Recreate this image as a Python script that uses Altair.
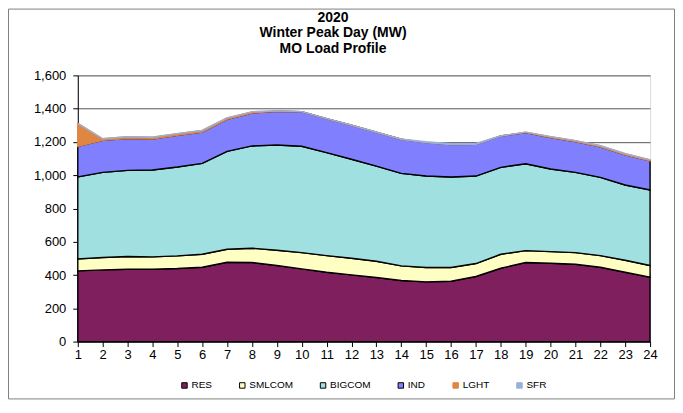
import altair as alt
import pandas as pd

hours = list(range(1, 25))
series = ["RES", "SMLCOM", "BIGCOM", "IND", "LGHT", "SFR"]

res = [425, 431, 435, 435, 439, 447, 477, 475, 457, 437, 417, 401,
       385, 367, 359, 363, 391, 441, 475, 471, 465, 447, 417, 387]
smlcom = [72, 74, 76, 74, 76, 78, 78, 86, 92, 98, 100, 100,
          98, 88, 86, 82, 78, 84, 72, 70, 70, 70, 72, 70]
bigcom = [493, 512, 518, 522, 534, 546, 588, 615, 633, 639, 619, 595,
          572, 556, 550, 544, 526, 522, 522, 496, 482, 470, 452, 454]
ind = [184, 193, 191, 187, 191, 189, 193, 198, 202, 208, 204, 204,
       203, 205, 201, 195, 191, 189, 187, 189, 185, 183, 181, 175]
lght = [138, 9, 11, 10, 10, 9, 9, 7, 3, 0, 0, 0,
        0, 0, 0, 0, 0, 0, 3, 6, 6, 7, 7, 6]
sfr = [0, 0, 0, 0, 0, 0, 0, 0, 0, 0, 0, 0,
       0, 0, 5, 6, 5, 0, 0, 0, 0, 0, 0, 0]

title_lines = ["2020", "Winter Peak Day (MW)", "MO Load Profile"]

colors = ["#7F1F5E", "#FFFFC4", "#A0E0E0", "#8080FF", "#DE8642", "#9BB0D8"]
strokes = ["#000000", "#000000", "#000000", "#000000", "#DE8642", "#9BB0D8"]

values = [res, smlcom, bigcom, ind, lght, sfr]
rows = []
for i, (s, vals) in enumerate(zip(series, values)):
    for h, v in zip(hours, vals):
        rows.append({"hour": h, "series": s, "mw": v, "ord": i})
df = pd.DataFrame(rows)

FONT = "Liberation Sans"

legend_params = dict(
    orient="none", legendX=102, legendY=306, direction="horizontal",
    title=None, symbolType="square", symbolSize=30, symbolStrokeWidth=1,
    labelFontSize=10, labelFont=FONT, columnPadding=25, labelOffset=2,
    symbolOpacity=1,
)

area = alt.Chart(df).mark_area(strokeWidth=1.4, opacity=1).encode(
    x=alt.X("hour:Q",
            scale=alt.Scale(domain=[1, 24], nice=False, zero=False),
            axis=alt.Axis(values=hours, title=None, grid=False, tickSize=5,
                          labelPadding=2, domainColor="black", tickColor="black",
                          labelFontSize=13, labelFont=FONT, labelColor="black",
                          labelFlush=False)),
    y=alt.Y("mw:Q", stack="zero",
            scale=alt.Scale(domain=[0, 1600], nice=False),
            axis=alt.Axis(values=list(range(0, 1601, 200)), format=",d",
                          title=None, grid=True, gridColor="#555555",
                          gridWidth=1, tickSize=5, labelPadding=7,
                          domainColor="black", tickColor="black",
                          labelFontSize=13, labelFont=FONT, labelColor="black")),
    color=alt.Color("series:N", scale=alt.Scale(domain=series, range=colors),
                    legend=alt.Legend(**legend_params)),
    stroke=alt.Stroke("series:N", scale=alt.Scale(domain=series, range=strokes),
                      legend=alt.Legend(**legend_params)),
    order=alt.Order("ord:Q", sort="ascending"),
)

frame = alt.Chart(pd.DataFrame({"a": [0]})).mark_rect(
    filled=False, stroke="#808080", strokeWidth=1
).encode(
    x=alt.value(-69.5), x2=alt.value(598.5),
    y=alt.value(-66.5), y2=alt.value(324.5),
)

title_df = pd.DataFrame({"line": title_lines, "k": [0, 1, 2]})
title_y = [-58, -42, -26]  # layout positions of the three title lines
title_layers = [
    alt.Chart(title_df).transform_filter(f"datum.k == {k}").mark_text(
        font=FONT, fontSize=14, fontWeight="bold", color="black",
        align="center", baseline="middle"
    ).encode(x=alt.value(256), y=alt.value(yy), text="line:N")
    for k, yy in enumerate(title_y)
]

chart = alt.layer(area, frame, *title_layers).properties(
    width=574, height=267,
    autosize=alt.AutoSizeParams(type="none"),
    padding={"left": 70, "top": 67, "right": 25, "bottom": 58},
).configure_view(stroke="#808080", strokeWidth=1).configure(background="white")

chart.save("out.html", embed_options={"renderer": "svg", "actions": False})
